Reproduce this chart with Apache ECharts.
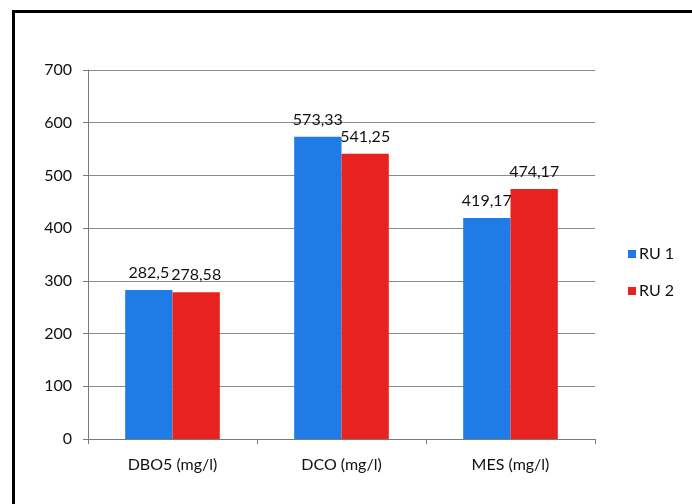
<!DOCTYPE html>
<html>
<head>
<meta charset="utf-8">
<script src="https://cdn.jsdelivr.net/npm/echarts@6/dist/echarts.min.js"></script>
<style>
  html, body { margin: 0; padding: 0; background: #fff; }
  #chart { width: 692px; height: 504px; }
</style>
</head>
<body>
<div id="chart"></div>
<script>
// Parameters measured for each sample
const categories = ['DBO5 (mg/l)', 'DCO (mg/l)', 'MES (mg/l)'];
const seriesNames = ['RU 1', 'RU 2'];
const ru1 = [282.5, 573.33, 419.17];
const ru2 = [278.58, 541.25, 474.17];

const FONT = 'Lato';
const TEXT = '#111111';

// values shown with a decimal comma
const fmt = p => String(p.value).replace('.', ',');

const chart = echarts.init(document.getElementById('chart'), null, { renderer: 'canvas' });

const valueLabel = {
  show: true, position: 'top', distance: 9, formatter: fmt,
  fontFamily: FONT, fontSize: 16, color: TEXT
};

chart.setOption({
  animation: false,
  backgroundColor: '#ffffff',
  textStyle: { fontFamily: FONT },
  grid: { left: 88, right: 97, top: 70, bottom: 65 },
  legend: {
    orient: 'vertical',
    left: 623,
    top: 241,
    itemWidth: 8,
    itemHeight: 8,
    itemGap: 21,
    icon: 'rect',
    textStyle: { fontFamily: FONT, fontSize: 16, color: TEXT, lineHeight: 16, padding: [0, 0, 0, -2] },
    data: seriesNames
  },
  xAxis: {
    type: 'category',
    data: categories,
    axisLine: { lineStyle: { color: '#7a7a7a', width: 1 } },
    axisTick: { show: true, length: 5, lineStyle: { color: '#7a7a7a' } },
    axisLabel: { fontFamily: FONT, fontSize: 16, color: TEXT, margin: 18 }
  },
  yAxis: {
    type: 'value',
    min: 0,
    max: 700,
    interval: 100,
    axisLine: { show: true, lineStyle: { color: '#7a7a7a', width: 1 } },
    axisTick: { show: true, length: 5, lineStyle: { color: '#7a7a7a' } },
    axisLabel: { fontFamily: FONT, fontSize: 16, color: TEXT, margin: 16 },
    splitLine: { lineStyle: { color: '#8a8a8a', width: 1 } }
  },
  series: [
    {
      name: seriesNames[0],
      type: 'bar',
      data: ru1,
      barGap: '0%',
      barCategoryGap: '44%',
      itemStyle: { color: '#1f7be6' },
      label: valueLabel
    },
    {
      name: seriesNames[1],
      type: 'bar',
      data: ru2,
      itemStyle: { color: '#e8231f' },
      label: valueLabel
    }
  ],
  graphic: [
    {
      type: 'rect',
      shape: { x: 13.5, y: 11.5, width: 700, height: 520 },
      style: { fill: 'none', stroke: '#000', lineWidth: 3 },
      silent: true,
      z: 100
    }
  ]
});
</script>
</body>
</html>
